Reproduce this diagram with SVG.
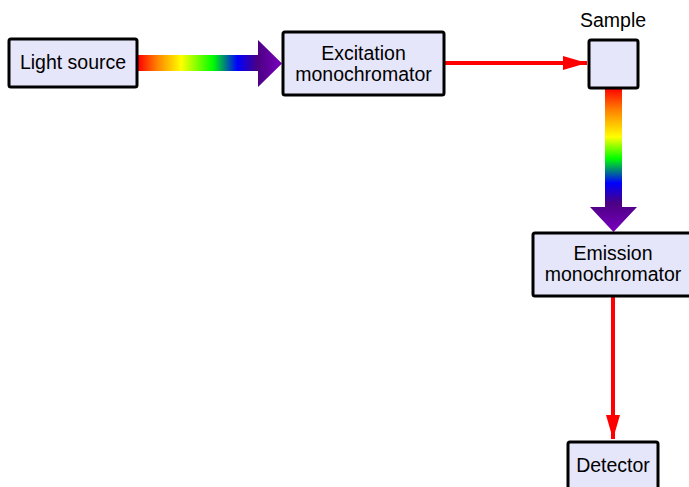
<svg xmlns="http://www.w3.org/2000/svg" width="689" height="487" viewBox="0 0 689 487">
<style>
.box{fill:#e6e6fa;stroke:#000;stroke-width:3;}
.t{font-family:"Liberation Sans",Arial,sans-serif;font-size:19.5px;fill:#000;text-anchor:middle;}
.red{stroke:#ff0000;stroke-width:4;fill:none;}
</style>
<defs>
<linearGradient id="gh" x1="138" y1="0" x2="282" y2="0" gradientUnits="userSpaceOnUse">
<stop offset="0" stop-color="#ff0000"/>
<stop offset="0.13" stop-color="#ff7f00"/>
<stop offset="0.30" stop-color="#ffff00"/>
<stop offset="0.52" stop-color="#00ff00"/>
<stop offset="0.69" stop-color="#0000ff"/>
<stop offset="0.83" stop-color="#4b0082"/>
<stop offset="1" stop-color="#7a00c0"/>
</linearGradient>
<linearGradient id="gv" x1="0" y1="88" x2="0" y2="232" gradientUnits="userSpaceOnUse">
<stop offset="0" stop-color="#ff0000"/>
<stop offset="0.15" stop-color="#ff7f00"/>
<stop offset="0.34" stop-color="#ffff00"/>
<stop offset="0.49" stop-color="#00ff00"/>
<stop offset="0.66" stop-color="#0000ff"/>
<stop offset="0.80" stop-color="#4b0082"/>
<stop offset="1" stop-color="#7a00c0"/>
</linearGradient>
<marker id="ah" viewBox="0 0 24 14" refX="24" refY="7" markerWidth="24" markerHeight="14" markerUnits="userSpaceOnUse" orient="auto">
<path d="M0,0 L24,7 L0,14 Z" fill="#ff0000"/>
</marker>
</defs>
<g id="connectors">
<path d="M138,55 H258 V40 L282,63.5 L258,87 V71 H138 Z" fill="url(#gh)"/>
<path d="M605,88 V207 H590 L613.5,232 L637,207 H622 V88 Z" fill="url(#gv)"/>
<line class="red" x1="445" y1="63" x2="587" y2="63" marker-end="url(#ah)"/>
<line class="red" x1="613" y1="297" x2="613" y2="439" marker-end="url(#ah)"/>
</g>
<g id="light-source">
<rect class="box" x="9" y="39" width="128" height="48" rx="2"/>
<text class="t" x="73" y="69">Light source</text>
</g>
<g id="excitation-monochromator">
<rect class="box" x="283" y="32" width="161" height="63" rx="2"/>
<text class="t" x="363.5" y="60">Excitation</text>
<text class="t" x="363.5" y="81">monochromator</text>
</g>
<g id="sample">
<text class="t" x="613" y="27">Sample</text>
<rect class="box" x="589" y="40" width="49" height="48" rx="2"/>
</g>
<g id="emission-monochromator">
<rect class="box" x="533" y="233" width="161" height="63" rx="2"/>
<text class="t" x="613" y="260">Emission</text>
<text class="t" x="613" y="281">monochromator</text>
</g>
<g id="detector">
<rect class="box" x="568" y="442" width="90" height="60" rx="2"/>
<text class="t" x="613" y="472">Detector</text>
</g>
</svg>
